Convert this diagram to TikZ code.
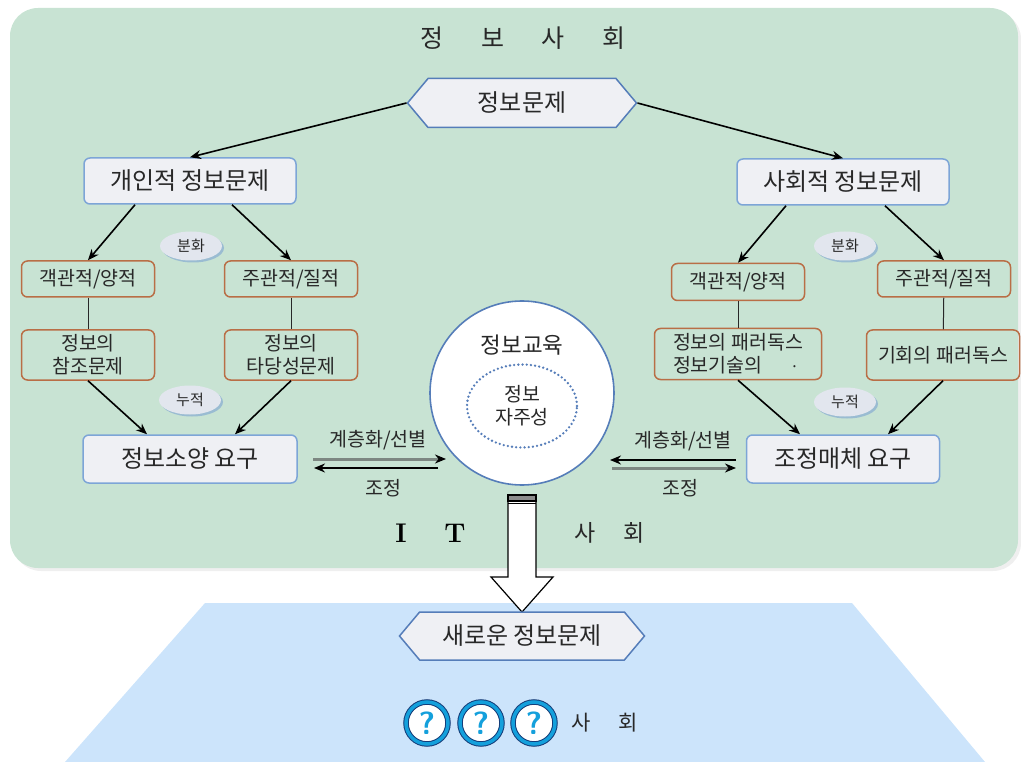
\documentclass[tikz,border=0pt]{standalone}
\usepackage{fontspec}
\newfontfamily\kr{Noto Sans CJK KR}
\usepackage{tikz}
\usetikzlibrary{arrows,arrows.meta,calc,positioning,shapes,shapes.geometric,shapes.symbols,shadows}
\definecolor{my_green}{RGB}{200, 227, 211}
\definecolor{my_blue}{RGB}{204, 228, 251}
\definecolor{my_text}{RGB}{40, 40, 40}
\definecolor{my_fill}{RGB}{239, 240, 244}
\definecolor{my_frame}{RGB}{125, 165, 215}
\definecolor{my_hexline}{RGB}{85, 125, 185}
\definecolor{my_brown}{RGB}{185, 110, 70}
\definecolor{my_tag}{RGB}{226, 230, 238}
\definecolor{my_tagshadow}{RGB}{110, 150, 210}
\definecolor{my_gray}{RGB}{125, 135, 130}
\definecolor{my_qdark}{RGB}{20, 60, 120}
\definecolor{my_qcyan}{RGB}{20, 160, 220}
\tikzset{
  kr_big/.style = {font=\kr\fontsize{24}{28}\selectfont, text=my_text},
  kr_mid/.style = {font=\kr\fontsize{19.5}{23}\selectfont, text=my_text},
  kr_small/.style = {font=\kr\fontsize{15}{18}\selectfont, text=my_text},
  box_main/.style = {kr_big, rectangle, rounded corners=6pt, draw=my_frame, fill=my_fill,
  line width=1.5pt, minimum width=212pt, minimum height=46pt, inner sep=0pt},
  box_sub/.style = {kr_mid, rectangle, rounded corners=6pt, draw=my_brown, line width=1.5pt,
  minimum width=133pt, minimum height=36pt, inner sep=0pt, align=center},
  hex_n/.style = {kr_big, signal, signal to=west and east, signal pointer angle=100,
  draw=my_hexline, fill=my_fill, line width=1.5pt, minimum width=229pt, minimum height=49pt, inner sep=0pt},
  tag_n/.style = {kr_small, ellipse, fill=my_tag, minimum width=62pt, minimum height=29pt, inner sep=0pt,
  drop shadow={shadow xshift=2pt, shadow yshift=-2pt, fill=my_tagshadow}}
}

\begin{document}
\begin{tikzpicture}[x=1pt, y=-1pt, ->, >={Stealth[length=11pt, width=9pt]}, line width=1.6pt,
        	gray_line/.style={my_gray, line width=3pt, -{Stealth[black, length=11pt, width=9pt]}},
        	qmark/.style={circle, draw=my_qdark, double=my_qcyan, double distance=3.5pt, line width=1pt,
        	fill=white, minimum size=42pt, inner sep=0pt, text=my_qcyan,
        	font=\sffamily\bfseries\fontsize{32}{34}\selectfont},
        	word/.style={font=\kr\fontsize{23}{27}\selectfont, text=my_text}]
    \useasboundingbox (0,0) rectangle (1021,762);
    % two societies
    \fill[my_green, rounded corners=28pt, drop shadow={shadow xshift=3pt, shadow yshift=-3pt, fill=black!12}]
        (10,8) rectangle (1018,568);
    \fill[my_blue] (205,603) -- (852,603) -- (985,762) -- (65,762) -- cycle;
    \node [kr_big, font=\kr\fontsize{25}{30}\selectfont] (title) at (523,38)
        {정\hspace{1.5em}보\hspace{1.5em}사\hspace{1.5em}회};

    % top
    \node [hex_n] (prob) at (522,103) {정보문제};
    \node [box_main] (indiv) at (190,181) {개인적 정보문제};
    \node [box_main] (social) at (843,182) {사회적 정보문제};

    % left branch
    \node [tag_n] (splitL) at (191,246) {분화};
    \node [box_sub] (objL) at (88,279) {객관적/양적};
    \node [box_sub] (subjL) at (291,279) {주관적/질적};
    \node [box_sub, minimum height=50pt] (refL) at (88,355) {정보의\\참조문제};
    \node [box_sub, minimum height=50pt] (valL) at (291,355) {정보의\\타당성문제};
    \node [tag_n] (accL) at (190,400) {누적};
    \node [box_main, minimum width=214pt, minimum height=48pt] (need) at (190,459) {정보소양 요구};

    % right branch
    \node [tag_n] (splitR) at (845,246) {분화};
    \node [box_sub, minimum height=37pt] (objR) at (738,282) {객관적/양적};
    \node [box_sub] (subjR) at (944,279) {주관적/질적};
    \node [box_sub, minimum width=167pt, minimum height=51pt, align=left] (parR) at (738,354)
        {정보의 패러독스\\정보기술의\hspace{1.4em}{\fontsize{16}{16}\selectfont ·}};
    \node [box_sub, minimum width=153pt, minimum height=50pt] (oppR) at (943,355) {기회의 패러독스};
    \node [tag_n] (accR) at (845,402) {누적};
    \node [box_main, minimum width=193pt, minimum height=48pt] (media) at (843,459) {조정매체 요구};

    % centre
    \node [circle, draw=my_hexline, fill=white, minimum size=184pt, inner sep=0pt] (edu) at (522,393) {};
    \node [kr_big, font=\kr\fontsize{22.5}{26}\selectfont] (edutitle) at (522,345) {정보교육};
    \node [kr_mid, ellipse, draw=my_hexline, line width=2.6pt, line cap=round, dash pattern=on 0pt off 4.2pt,
        minimum width=110pt, minimum height=83pt, inner sep=0pt, align=center] (self) at (522,406) {정보\\자주성};

    % connectors
    \draw (prob.west) -- (indiv.north);
    \draw (prob.east) -- (social.north);
    \draw ([xshift=-55pt]indiv.south) -- (objL.north);
    \draw ([xshift=42pt]indiv.south) -- (subjL.north);
    \draw [-, line width=1pt, my_text] (objL) -- (refL);
    \draw [-, line width=1pt, my_text] (subjL) -- (valL);
    \draw (refL.south) -- ([xshift=-43pt]need.north);
    \draw (valL.south) -- ([xshift=45pt]need.north);
    \draw ([xshift=-57pt]social.south) -- (objR.north);
    \draw ([xshift=42pt]social.south) -- (subjR.north);
    \draw [-, line width=1pt, my_text] (objR) -- (parR);
    \draw [-, line width=1pt, my_text] (subjR) -- (oppR);
    \draw (parR.south) -- ([xshift=-43pt]media.north);
    \draw (oppR.south) -- ([xshift=45pt]media.north);

    % left and right exchange
    \coordinate (l_a) at (313,459);
    \coordinate (l_b) at (446,459);
    \coordinate (l_c) at (438,468);
    \coordinate (l_d) at (314,468);
    \draw [gray_line] (l_a) -- (l_b);
    \draw (l_c) -- (l_d);
    \node [kr_mid] (lsort) at (378,440) {계층화/선별};
    \node [kr_mid] (ladj) at (383,488) {조정};
    \coordinate (r_a) at (736,460);
    \coordinate (r_b) at (610,460);
    \coordinate (r_c) at (612,468);
    \coordinate (r_d) at (736,468);
    \draw (r_a) -- (r_b);
    \draw [gray_line] (r_c) -- (r_d);
    \node [kr_mid] (rsort) at (683,441) {계층화/선별};
    \node [kr_mid] (radj) at (680,488) {조정};

    % down arrow
    \draw [-, fill=white, line width=1.2pt] (508,495) -- (536,495) -- (536,577) -- (553,577)
        -- (522,612) -- (491,577) -- (508,577) -- cycle;
    \fill [black!45] (508,495) rectangle (536,501);
    \draw [-, line width=1.2pt] (508,503.5) -- (536,503.5);
    \draw [-, line width=1.2pt] (508,495) rectangle (536,501);

    % IT society
    \node [font=\bfseries\fontsize{27}{30}\selectfont] (it_i) at (401,533) {I};
    \node [font=\bfseries\fontsize{27}{30}\selectfont] (it_t) at (455,533) {T};
    \node [word] (it_sa) at (585,533) {사};
    \node [word] (it_hoe) at (634,533) {회};

    % new society
    \node [hex_n, minimum width=245pt, minimum height=48pt] (newprob) at (522,636) {새로운 정보문제};
    \node [qmark] (q1) at (427,723) {?};
    \node [qmark] (q2) at (481,723) {?};
    \node [qmark] (q3) at (534,723) {?};
    \node [word, font=\kr\fontsize{21}{25}\selectfont] (new_sa) at (581,723) {사};
    \node [word, font=\kr\fontsize{21}{25}\selectfont] (new_hoe) at (628,723) {회};
\end{tikzpicture}
\end{document}
